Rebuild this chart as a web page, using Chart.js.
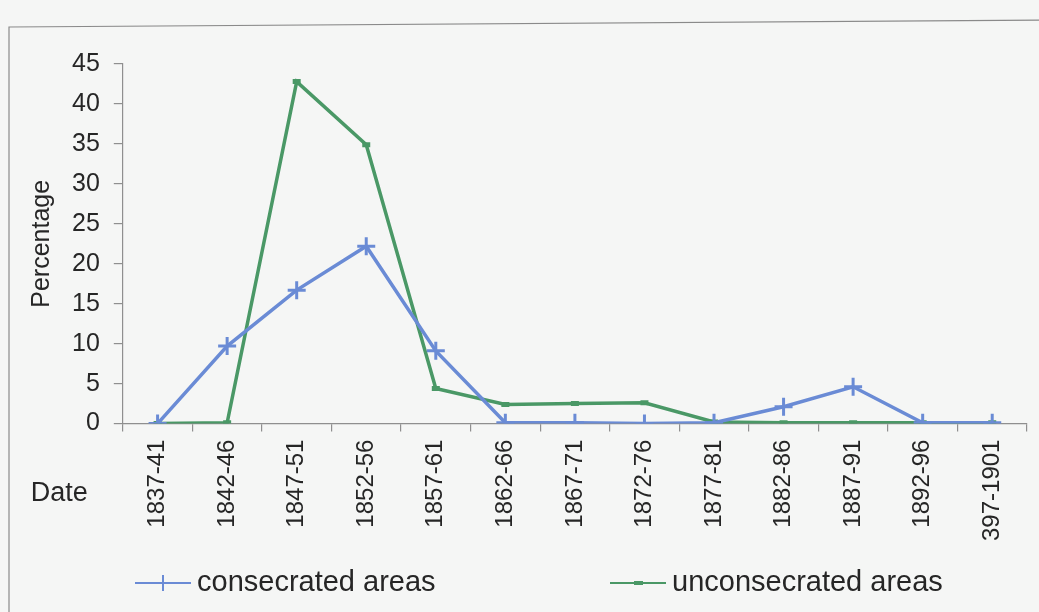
<!DOCTYPE html>
<html>
<head>
<meta charset="utf-8">
<script src="https://cdn.jsdelivr.net/npm/chart.js@4/dist/chart.umd.min.js"></script>
<style>
  html, body { margin: 0; padding: 0; background: #f5f6f5; }
  #wrap { width: 1039px; height: 612px; position: relative; }
</style>
</head>
<body>
<div id="wrap"><canvas id="c" width="1039" height="612"></canvas></div>
<script>
const categories = ['1837-41','1842-46','1847-51','1852-56','1857-61','1862-66','1867-71','1872-76','1877-81','1882-86','1887-91','1892-96','397-1901'];
const consecrated = [0, 9.7, 16.7, 22.2, 9.1, 0.1, 0.1, 0, 0.1, 2.1, 4.6, 0.1, 0.1];
const unconsecrated = [0, 0.1, 42.8, 34.9, 4.4, 2.4, 2.5, 2.6, 0.2, 0.1, 0.1, 0.1, 0.1];
const yTicks = [0, 5, 10, 15, 20, 25, 30, 35, 40, 45];
const seriesNames = ['consecrated areas', 'unconsecrated areas'];

const BLUE = '#6a8bd5';
const GREEN = '#4a9866';
const TEXT = '#262626';
const FONT = '"Liberation Sans", Arial, sans-serif';

const framePlugin = {
  id: 'frame',
  beforeDraw(chart) {
    const ctx = chart.ctx;
    ctx.save();
    ctx.fillStyle = '#f5f6f5';
    ctx.fillRect(0, 0, chart.width, chart.height);
    ctx.strokeStyle = '#8a8a8a';
    ctx.lineWidth = 1.2;
    ctx.beginPath();
    ctx.moveTo(9, chart.height + 5);
    ctx.lineTo(9, 27);
    ctx.lineTo(chart.width + 5, 20);
    ctx.stroke();
    ctx.restore();
  }
};

const datePlugin = {
  id: 'dateLabel',
  afterDraw(chart) {
    const ctx = chart.ctx;
    const a = chart.chartArea;
    ctx.save();
    ctx.fillStyle = TEXT;
    ctx.font = '27px ' + FONT;
    ctx.textAlign = 'left';
    ctx.textBaseline = 'middle';
    ctx.fillText('Date', a.left - 92, a.bottom + 70);
    ctx.restore();
  }
};

// Legend drawn below the plot, one entry per dataset, in the reference's layout
const legendPlugin = {
  id: 'customLegend',
  afterDraw(chart) {
    const ctx = chart.ctx;
    const y = chart.height - 29;
    const starts = [135, 610];
    ctx.save();
    chart.data.datasets.forEach((ds, i) => {
      const x0 = starts[i];
      ctx.strokeStyle = ds.borderColor;
      ctx.lineWidth = 2;
      ctx.beginPath(); ctx.moveTo(x0, y); ctx.lineTo(x0 + 56, y); ctx.stroke();
      if (ds.pointStyle === 'cross') {
        ctx.beginPath(); ctx.moveTo(x0 + 28, y - 8); ctx.lineTo(x0 + 28, y + 8); ctx.stroke();
      } else {
        ctx.lineWidth = 4;
        ctx.beginPath(); ctx.moveTo(x0 + 24, y); ctx.lineTo(x0 + 33, y); ctx.stroke();
      }
      ctx.fillStyle = TEXT;
      ctx.font = '29px ' + FONT;
      ctx.textAlign = 'left';
      ctx.textBaseline = 'middle';
      ctx.fillText(ds.label, x0 + 62, y);
    });
    ctx.restore();
  }
};

new Chart(document.getElementById('c'), {
  type: 'line',
  data: {
    labels: categories,
    datasets: [
      {
        label: seriesNames[0],
        data: consecrated,
        borderColor: BLUE,
        backgroundColor: BLUE,
        borderWidth: 3.5,
        pointStyle: 'cross',
        pointRadius: 9,
        pointBorderWidth: 3,
        pointBorderColor: BLUE,
        tension: 0,
        fill: false
      },
      {
        label: seriesNames[1],
        data: unconsecrated,
        borderColor: GREEN,
        backgroundColor: GREEN,
        borderWidth: 3.5,
        pointStyle: 'line',
        pointRadius: 4,
        pointBorderWidth: 5,
        pointBorderColor: GREEN,
        tension: 0,
        fill: false
      }
    ]
  },
  options: {
    responsive: false,
    animation: false,
    devicePixelRatio: 1,
    layout: { padding: { left: 27, right: 7, top: 64, bottom: 63 } },
    plugins: {
      tooltip: { enabled: false },
      legend: { display: false }
    },
    scales: {
      x: {
        type: 'category',
        offset: true,
        border: { display: true, color: '#8f8f8f', width: 1.2 },
        grid: { display: true, offset: true, drawOnChartArea: false, drawTicks: true, tickLength: 8, color: '#8f8f8f', lineWidth: 1.2 },
        ticks: {
          color: TEXT,
          font: { family: FONT, size: 24 },
          minRotation: 90,
          maxRotation: 90,
          padding: 8,
          autoSkip: false
        }
      },
      y: {
        min: 0,
        max: 45,
        border: { display: true, color: '#8f8f8f', width: 1.2 },
        grid: { display: true, drawOnChartArea: false, drawTicks: true, tickLength: 9, color: '#8f8f8f', lineWidth: 1.2 },
        afterBuildTicks(scale) { scale.ticks = yTicks.map(v => ({ value: v })); },
        ticks: {
          color: TEXT,
          font: { family: FONT, size: 25 },
          padding: 14
        },
        title: {
          display: true,
          text: 'Percentage',
          color: TEXT,
          font: { family: FONT, size: 25 },
          padding: { top: 0, bottom: 1 }
        }
      }
    }
  },
  plugins: [framePlugin, datePlugin, legendPlugin]
});
</script>
</body>
</html>
